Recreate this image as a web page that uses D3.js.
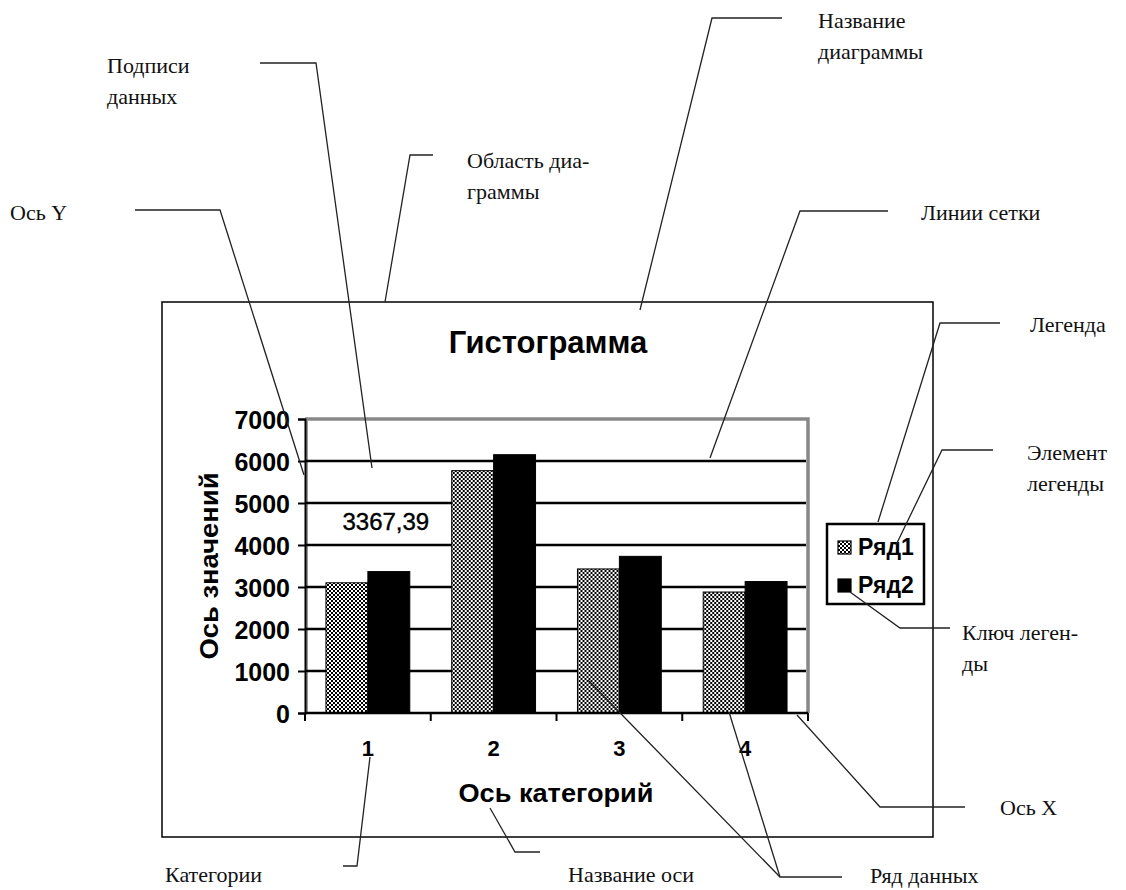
<!DOCTYPE html>
<html>
<head>
<meta charset="utf-8">
<script src="https://cdn.jsdelivr.net/npm/d3@7"></script>
<style>
  body { margin: 0; background: #fff; }
  .ann { font-family: "Liberation Serif", "Times New Roman", serif; font-size: 22px; fill: #111; }
  .bold { font-family: "Liberation Sans", Arial, sans-serif; font-weight: bold; fill: #000; }
</style>
</head>
<body>
<div id="chart-container"></div>
<script>
// chart data
const categories = ['1', '2', '3', '4'];
const seriesNames = ['Ряд1', 'Ряд2'];
const series1 = [3100, 5770, 3430, 2880];
const series2 = [3367.39, 6150, 3730, 3130];
const yTicks = [0, 1000, 2000, 3000, 4000, 5000, 6000, 7000];
const dataLabel = { series: 1, index: 0, text: '3367,39' };

// callouts around the chart (text lines + leader polyline)
const callouts = [
  { lines: ['Название', 'диаграммы'], x: 818, y: 28, path: [[782, 18], [712, 18], [640, 310]] },
  { lines: ['Подписи', 'данных'], x: 107, y: 73, path: [[260, 63], [316, 63], [372, 468]] },
  { lines: ['Область диа-', 'граммы'], x: 467, y: 168, path: [[433, 155], [410, 155], [385, 302]] },
  { lines: ['Ось Y'], x: 10, y: 220, path: [[135, 210], [220, 210], [304, 475]] },
  { lines: ['Линии сетки'], x: 921, y: 220, path: [[888, 211], [800, 211], [710, 458]] },
  { lines: ['Легенда'], x: 1030, y: 332, path: [[1000, 323], [940, 323], [878, 522]] },
  { lines: ['Элемент', 'легенды'], x: 1027, y: 460, path: [[993, 450], [942, 450], [896, 545]] },
  { lines: ['Ключ леген-', 'ды'], x: 962, y: 640, path: [[950, 628], [900, 628], [850, 592]] },
  { lines: ['Ось X'], x: 1000, y: 815, path: [[965, 807], [880, 807], [797, 715]] },
  { lines: ['Ряд данных'], x: 870, y: 883, path: [[842, 877], [780, 877], [588, 680]] },
  { lines: [], x: 0, y: 0, path: [[780, 877], [729, 712]] },
  { lines: ['Категории'], x: 165, y: 882, path: [[343, 866], [357, 866], [370, 757]] },
  { lines: ['Название оси'], x: 568, y: 882, path: [[540, 852], [515, 852], [490, 808]] }
];

const W = 1126, H = 890;
const plot = { left: 305, right: 808, top: 419, bottom: 713 };

const svg = d3.select('#chart-container')
  .append('svg')
  .attr('width', W)
  .attr('height', H);

// checker pattern for Ряд1
const defs = svg.append('defs');
const pat = defs.append('pattern')
  .attr('id', 'checker')
  .attr('patternUnits', 'userSpaceOnUse')
  .attr('width', 4)
  .attr('height', 4);
pat.append('rect').attr('width', 4).attr('height', 4).attr('fill', '#000');
pat.append('rect').attr('width', 2).attr('height', 2).attr('fill', '#fff');
pat.append('rect').attr('x', 2).attr('y', 2).attr('width', 2).attr('height', 2).attr('fill', '#fff');

const fills = ['url(#checker)', '#000'];

// chart area border
svg.append('rect')
  .attr('x', 162).attr('y', 302)
  .attr('width', 933 - 162).attr('height', 837 - 302)
  .attr('fill', 'none')
  .attr('stroke', '#000')
  .attr('stroke-width', 1.5);

// scales
const x0 = d3.scaleBand()
  .domain(categories)
  .range([plot.left, plot.right])
  .padding(0);

const x1 = d3.scaleBand()
  .domain(d3.range(seriesNames.length))
  .range([x0.bandwidth() / 6, x0.bandwidth() * 5 / 6]);

const y = d3.scaleLinear()
  .domain([0, 7000])
  .range([plot.bottom, plot.top]);

// plot area frame (gray top/right)
svg.append('path')
  .attr('d', `M${plot.left},${plot.top}H${plot.right}V${plot.bottom}`)
  .attr('fill', 'none')
  .attr('stroke', '#888')
  .attr('stroke-width', 3.5);
svg.append('line')
  .attr('x1', plot.left + 2).attr('x2', plot.left + 2)
  .attr('y1', plot.top).attr('y2', plot.bottom)
  .attr('stroke', '#999')
  .attr('stroke-width', 2);

// gridlines
svg.append('g')
  .selectAll('line')
  .data(yTicks.filter(d => d > 0 && d < 7000))
  .enter()
  .append('line')
  .attr('x1', plot.left)
  .attr('x2', plot.right - 2)
  .attr('y1', d => y(d))
  .attr('y2', d => y(d))
  .attr('stroke', '#000')
  .attr('stroke-width', 2.5);

// bars
const rows = categories.map((c, i) => ({ cat: c, values: [series1[i], series2[i]] }));
const groups = svg.append('g')
  .selectAll('g')
  .data(rows)
  .enter()
  .append('g')
  .attr('transform', d => `translate(${x0(d.cat)},0)`);

groups.selectAll('rect')
  .data(d => d.values.map((v, s) => ({ v, s })))
  .enter()
  .append('rect')
  .attr('x', d => x1(d.s))
  .attr('y', d => y(d.v))
  .attr('width', x1.bandwidth())
  .attr('height', d => y(0) - y(d.v))
  .attr('fill', d => fills[d.s])
  .attr('stroke', '#000')
  .attr('stroke-width', 1);

// y axis
const yAxis = svg.append('g')
  .attr('transform', `translate(${plot.left},0)`)
  .call(d3.axisLeft(y).tickValues(yTicks).tickSize(7).tickFormat(d3.format('d')));
yAxis.select('.domain').attr('stroke', '#000').attr('stroke-width', 2);
yAxis.selectAll('.tick line').attr('stroke', '#000').attr('stroke-width', 2);
yAxis.selectAll('.tick text')
  .attr('class', 'bold')
  .attr('font-size', 25)
  .attr('x', -15)
  .attr('dy', '0.36em');

// x axis
const xAxis = svg.append('g')
  .attr('transform', `translate(0,${plot.bottom})`)
  .call(d3.axisBottom(x0).tickSize(0).tickPadding(0));
xAxis.select('.domain').attr('stroke', '#000').attr('stroke-width', 2.5)
  .attr('d', `M${plot.left},0H${plot.right}`);
xAxis.selectAll('.tick text')
  .attr('class', 'bold')
  .attr('font-size', 22)
  .attr('y', 43)
  .attr('dy', 0);

// category boundary ticks
svg.append('g')
  .selectAll('line')
  .data(categories.concat(['end']))
  .enter()
  .append('line')
  .attr('x1', (d, i) => plot.left + i * x0.bandwidth())
  .attr('x2', (d, i) => plot.left + i * x0.bandwidth())
  .attr('y1', plot.bottom)
  .attr('y2', plot.bottom + 8)
  .attr('stroke', '#000')
  .attr('stroke-width', 2);

// titles
svg.append('text')
  .attr('class', 'bold')
  .attr('x', 548).attr('y', 353)
  .attr('text-anchor', 'middle')
  .attr('font-size', 31)
  .text('Гистограмма');

svg.append('text')
  .attr('class', 'bold')
  .attr('transform', 'translate(218,566) rotate(-90)')
  .attr('text-anchor', 'middle')
  .attr('font-size', 26)
  .attr('textLength', 187)
  .attr('lengthAdjust', 'spacingAndGlyphs')
  .text('Ось значений');

svg.append('text')
  .attr('class', 'bold')
  .attr('x', 556).attr('y', 802)
  .attr('text-anchor', 'middle')
  .attr('font-size', 26)
  .attr('textLength', 195)
  .attr('lengthAdjust', 'spacingAndGlyphs')
  .text('Ось категорий');

// data label
svg.append('text')
  .attr('x', x0(categories[dataLabel.index]) + x1(dataLabel.series) + x1.bandwidth() / 2 - 3)
  .attr('y', y(series2[dataLabel.index]) - 42)
  .attr('text-anchor', 'middle')
  .attr('font-family', '"Liberation Sans", Arial, sans-serif')
  .attr('font-size', 24)
  .attr('stroke', '#000')
  .attr('stroke-width', 0.4)
  .text(dataLabel.text);

// legend
const legend = svg.append('g').attr('transform', 'translate(827,524)');
legend.append('rect')
  .attr('width', 97).attr('height', 80)
  .attr('fill', '#fff')
  .attr('stroke', '#000')
  .attr('stroke-width', 2.5);
const items = legend.selectAll('g.item')
  .data(seriesNames)
  .enter()
  .append('g')
  .attr('class', 'item')
  .attr('transform', (d, i) => `translate(11,${23 + i * 38})`);
items.append('rect')
  .attr('x', 0).attr('y', -6)
  .attr('width', 13).attr('height', 13)
  .attr('fill', (d, i) => fills[i])
  .attr('stroke', '#000')
  .attr('stroke-width', 1.2);
items.append('text')
  .attr('class', 'bold')
  .attr('x', 20)
  .attr('dy', '0.36em')
  .attr('font-size', 23)
  .text(d => d);

// callouts
const line = d3.line();
const ann = svg.append('g');
callouts.forEach(c => {
  ann.append('path')
    .attr('d', line(c.path))
    .attr('fill', 'none')
    .attr('stroke', '#222')
    .attr('stroke-width', 1.3);
  c.lines.forEach((t, i) => {
    ann.append('text')
      .attr('class', 'ann')
      .attr('x', c.x)
      .attr('y', c.y + i * 31)
      .text(t);
  });
});
</script>
</body>
</html>
